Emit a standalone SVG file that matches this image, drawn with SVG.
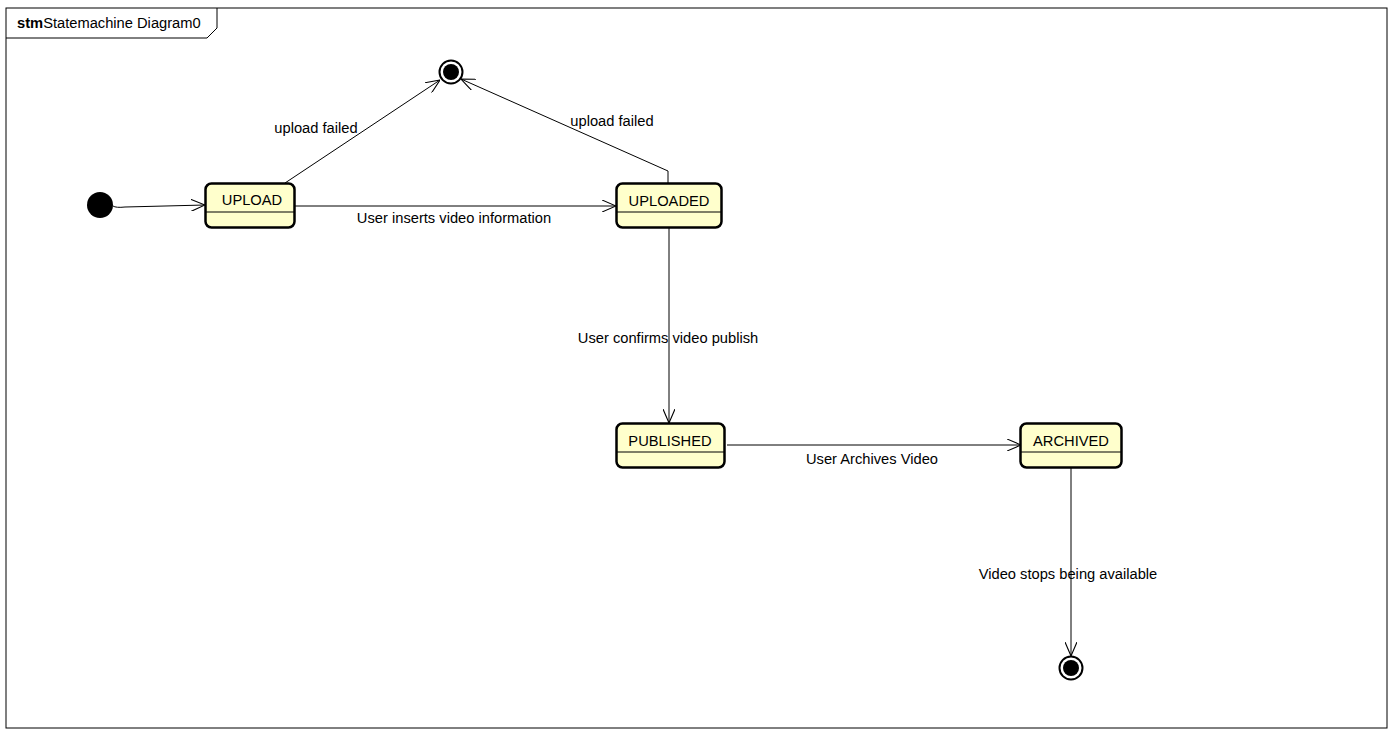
<svg xmlns="http://www.w3.org/2000/svg" width="1392" height="730" viewBox="0 0 1392 730">
  <style>
    text { font-family: "Liberation Sans", Arial, sans-serif; font-size: 14.7px; fill: #000; }
    .state { fill: #ffffcc; stroke: #000; stroke-width: 2.5; }
    .div { stroke: #000; stroke-width: 1.2; }
    .edge { fill: none; stroke: #000; stroke-width: 1; }
    .lbl { text-anchor: middle; }
  </style>
  <defs>
    <marker id="open" viewBox="0 0 14 12" refX="14" refY="6" markerWidth="14" markerHeight="12" markerUnits="userSpaceOnUse" orient="auto">
      <path d="M0,0 L14,6 L0,12" fill="none" stroke="#000" stroke-width="1.1"/>
    </marker>
  </defs>
  <rect width="1392" height="730" fill="#fff"/>

  <!-- frame -->
  <g id="frame">
    <rect x="6" y="8" width="1381" height="720" fill="none" stroke="#000" stroke-width="1"/>
    <path d="M6,38 L207,38 L217,28 L217,8" fill="none" stroke="#000" stroke-width="1"/>
    <text x="17" y="28"><tspan font-weight="bold">stm</tspan>Statemachine Diagram0</text>
  </g>

  <!-- transitions -->
  <g id="connectors">
    <path class="edge" d="M113,206 Q116,208 125,207 L205,205" marker-end="url(#open)"/>
    <path class="edge" d="M285,183 L440,80" marker-end="url(#open)"/>
    <path class="edge" d="M668,183 L668,171 L461,79" marker-end="url(#open)"/>
    <path class="edge" d="M295,206 L616,206" marker-end="url(#open)"/>
    <path class="edge" d="M669,228 L669,423" marker-end="url(#open)"/>
    <path class="edge" d="M727,445 L1021,445" marker-end="url(#open)"/>
    <path class="edge" d="M1071,467 L1071,656" marker-end="url(#open)"/>
    <text x="316" y="133" class="lbl">upload failed</text>
    <text x="612" y="126" class="lbl">upload failed</text>
    <text x="454" y="223" class="lbl">User inserts video information</text>
    <text x="668" y="343" class="lbl">User confirms video publish</text>
    <text x="872" y="464" class="lbl">User Archives Video</text>
    <text x="1068" y="579" class="lbl">Video stops being available</text>
  </g>

  <!-- pseudo states -->
  <g id="initial">
    <circle cx="100" cy="205" r="13" fill="#000"/>
  </g>
  <g id="final-top">
    <circle cx="451" cy="72" r="11.5" fill="#fff" stroke="#000" stroke-width="2"/>
    <circle cx="451" cy="72" r="8" fill="#000"/>
  </g>
  <g id="final-bottom">
    <circle cx="1071" cy="668" r="11.5" fill="#fff" stroke="#000" stroke-width="2"/>
    <circle cx="1071" cy="668" r="8" fill="#000"/>
  </g>

  <!-- states -->
  <g id="upload">
    <rect class="state" x="205.5" y="183.5" width="89" height="44" rx="6"/>
    <line class="div" x1="206" y1="212" x2="294" y2="212"/>
    <text x="252" y="205" class="lbl">UPLOAD</text>
  </g>
  <g id="uploaded">
    <rect class="state" x="616.5" y="183.5" width="105" height="44" rx="6"/>
    <line class="div" x1="617" y1="212" x2="721" y2="212"/>
    <text x="669" y="206" class="lbl">UPLOADED</text>
  </g>
  <g id="published">
    <rect class="state" x="616.5" y="423.5" width="108" height="44" rx="6"/>
    <line class="div" x1="617" y1="452" x2="724" y2="452"/>
    <text x="670" y="446" class="lbl">PUBLISHED</text>
  </g>
  <g id="archived">
    <rect class="state" x="1020.5" y="423.5" width="101" height="44" rx="6"/>
    <line class="div" x1="1021" y1="452" x2="1121" y2="452"/>
    <text x="1071" y="446" class="lbl">ARCHIVED</text>
  </g>
</svg>
